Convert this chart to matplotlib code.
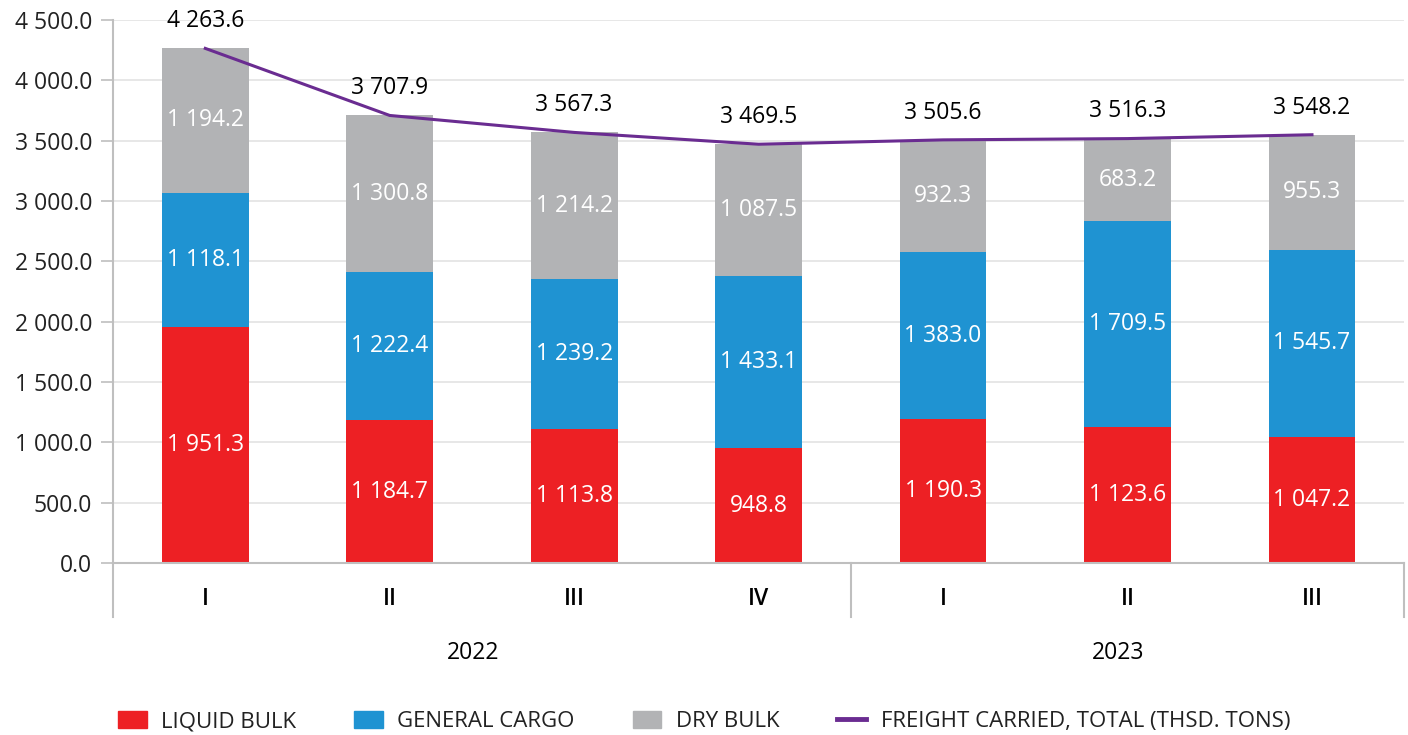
import matplotlib
matplotlib.use('Agg')
import matplotlib.pyplot as plt
from matplotlib.lines import Line2D
from matplotlib.patches import Patch
import numpy as np

plt.rcParams['font.family'] = ['Open Sans', 'DejaVu Sans']

# data (thsd. tons)
quarters = ['I', 'II', 'III', 'IV', 'I', 'II', 'III']
years = ['2022', '2023']
year_groups = [(0, 3), (4, 6)]
liquid_bulk = [1951.3, 1184.7, 1113.8, 948.8, 1190.3, 1123.6, 1047.2]
general_cargo = [1118.1, 1222.4, 1239.2, 1433.1, 1383.0, 1709.5, 1545.7]
dry_bulk = [1194.2, 1300.8, 1214.2, 1087.5, 932.3, 683.2, 955.3]
total = [4263.6, 3707.9, 3567.3, 3469.5, 3505.6, 3516.3, 3548.2]

RED = '#ED2024'
BLUE = '#1F93D2'
GREY = '#B2B3B5'
PURPLE = '#6A2C91'
AXIS = '#BFBFBF'


def fmt(v):
    return f'{v:,.1f}'.replace(',', ' ')


fig = plt.figure(figsize=(14.08, 7.35), dpi=100)
ax = fig.add_axes([0.0803, 0.234, 0.917, 0.739])

x = np.arange(len(quarters))
width = 0.47
bottom = np.zeros(len(x))
for vals, color in [(liquid_bulk, RED), (general_cargo, BLUE), (dry_bulk, GREY)]:
    vals = np.array(vals)
    ax.bar(x, vals, width, bottom=bottom, color=color, zorder=3)
    for xi, b, v in zip(x, bottom, vals):
        ax.text(xi, b + v / 2, fmt(v), ha='center', va='center',
                color='white', fontsize=16.5, zorder=5)
    bottom += vals

ax.plot(x, total, color=PURPLE, linewidth=2.2, zorder=4)
for xi, t in zip(x, total):
    ax.annotate(fmt(t), (xi, t), xytext=(0, 19.5), textcoords='offset points',
                ha='center', va='center', fontsize=16.5, color='black')

ax.set_xlim(-0.5, len(x) - 0.5)
ax.set_ylim(0, 4500)
ax.set_yticks(np.arange(0, 4501, 500))
ax.set_yticklabels([fmt(v) for v in np.arange(0, 4501, 500)], fontsize=16.5,
                   color='#222222')
ax.grid(True, axis='y', color='#E3E3E3', linewidth=1.2, zorder=0)
ax.tick_params(axis='y', length=9, color=AXIS, width=1.2, pad=6)
ax.tick_params(axis='x', length=0, pad=0)
ax.set_xticks([])

for s in ['top', 'right', 'left']:
    ax.spines[s].set_visible(False)
ax.spines['bottom'].set_color(AXIS)
ax.spines['bottom'].set_linewidth(1.5)
ax.spines['bottom'].set_zorder(4)

# category axis: quarter labels, group dividers, year labels
trans = ax.get_xaxis_transform()
for xi, q in zip(x, quarters):
    ax.text(xi, -0.066, q, transform=trans, ha='center', va='center',
            fontsize=16.5, color='black', fontweight='semibold')
for xd in [-0.5, 3.5, 6.5]:
    ax.plot([xd, xd], [1.0 if xd == -0.5 else 0, -0.1], transform=trans,
            color=AXIS, linewidth=1.5, clip_on=False, zorder=4)
for (a, b), yr in zip(year_groups, years):
    ax.text((a + b) / 2 - 0.05, -0.166, yr, transform=trans, ha='center',
            va='center', fontsize=16.5, color='black')

handles = [Patch(color=RED), Patch(color=BLUE), Patch(color=GREY),
           Line2D([0], [0], color=PURPLE, linewidth=3.5)]
labels = ['LIQUID BULK', 'GENERAL CARGO', 'DRY BULK',
          'FREIGHT CARRIED, TOTAL (THSD. TONS)']
fig.legend(handles, labels, loc='center', bbox_to_anchor=(0.5, 0.018),
           ncol=4, frameon=False, fontsize=16, handlelength=1.3,
           handleheight=0.75, handletextpad=0.65, columnspacing=2.6,
           labelcolor='#222222')

fig.savefig('out.png', dpi=100)
